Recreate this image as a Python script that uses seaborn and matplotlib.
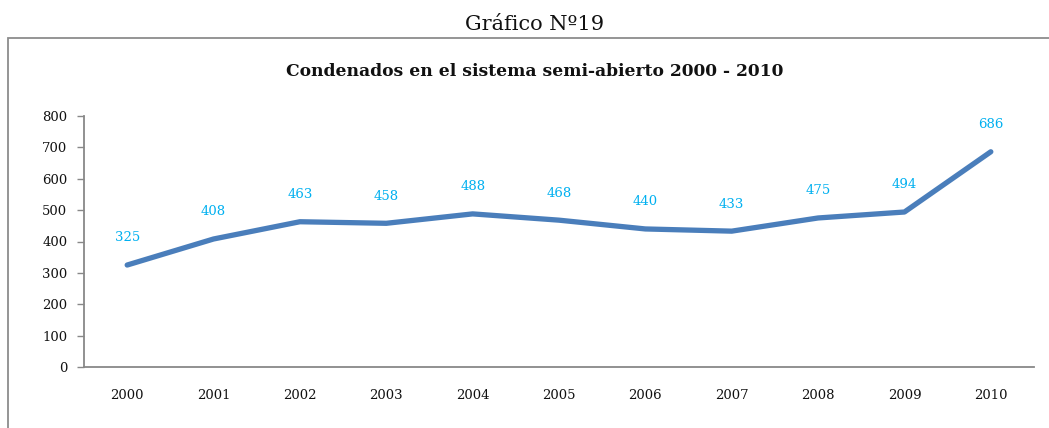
import matplotlib as mpl
mpl.use('Agg')
import matplotlib.pyplot as plt
import pandas as pd
import seaborn as sns

years = ['2000', '2001', '2002', '2003', '2004', '2005', '2006', '2007', '2008', '2009', '2010']
condenados = [325, 408, 463, 458, 488, 468, 440, 433, 475, 494, 686]

df = pd.DataFrame({'anio': years, 'condenados': condenados})

sns.set_style('white')
plt.rcParams['font.family'] = ['DejaVu Serif']

fig = plt.figure(figsize=(10.49, 4.28), dpi=100)

# outer chart box
box = plt.Rectangle((8/1049, -0.1), 1.2, 1 - 38/428 + 0.1, transform=fig.transFigure,
                    fill=False, edgecolor='#8c8c8c', linewidth=1.3)
fig.patches.append(box)

fig.text(535/1049, 1 - 25/428, 'Gráfico Nº19', ha='center', va='center', fontsize=15,
         color='#111111')
fig.text(535/1049, 1 - 72/428, 'Condenados en el sistema semi-abierto 2000 - 2010',
         ha='center', va='center', fontsize=12.3, fontweight='bold', color='#111111')

ax = fig.add_axes([84/1049, 1 - 367/428, (1034 - 84)/1049, (367 - 116)/428])

sns.lineplot(data=df, x='anio', y='condenados', ax=ax, color='#4a7ebb',
             linewidth=3.8, solid_capstyle='round', sort=False)

for i, v in enumerate(condenados):
    ax.annotate(str(v), (i, v), xytext=(0, 19.5), textcoords='offset points',
                ha='center', va='center', color='#00b0f0', fontsize=9.5)

ax.set_xlim(-0.5, len(years) - 0.5)
ax.set_ylim(0, 800)
ax.set_yticks(range(0, 801, 100))
ax.set_xlabel('')
ax.set_ylabel('')

for s in ['top', 'right']:
    ax.spines[s].set_visible(False)
for s in ['left', 'bottom']:
    ax.spines[s].set_color('#888888')
    ax.spines[s].set_linewidth(1.3)

ax.tick_params(axis='y', which='major', left=True, length=5, width=1, color='#888888',
               labelsize=9.5, pad=7, labelcolor='#111111')
ax.tick_params(axis='x', bottom=False, labelsize=9.5, pad=12, labelcolor='#111111')

plt.savefig('out.png', dpi=100)
